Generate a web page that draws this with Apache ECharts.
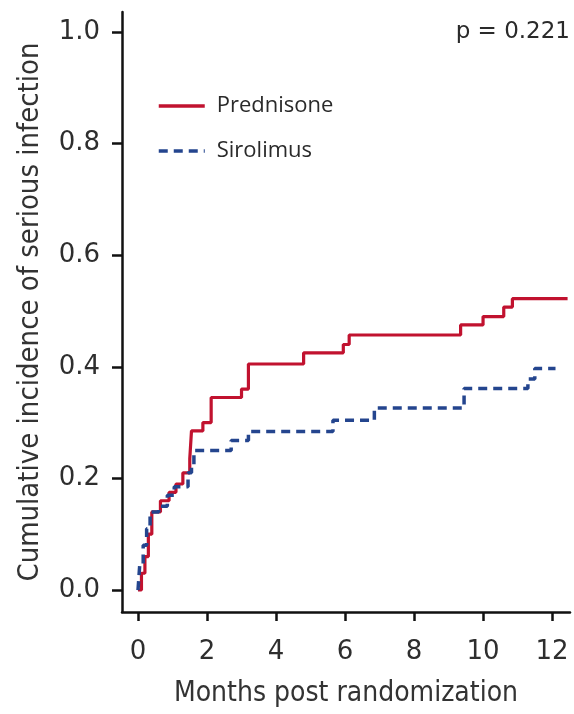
<!DOCTYPE html>
<html>
<head>
<meta charset="utf-8">
<script src="https://cdn.jsdelivr.net/npm/echarts@6/dist/echarts.min.js"></script>
<style>
  html, body { margin: 0; padding: 0; background: #fff; }
  #main { width: 574px; height: 714px; }
</style>
</head>
<body>
<div id="main"></div>
<script>
// Prednisone - step times (months) and cumulative incidence after each step
var predTime = [0, 0.1, 0.2, 0.3, 0.4, 0.65, 0.9, 1.1, 1.3, 1.5, 1.55, 1.88, 2.12, 3.0, 3.2, 4.8, 5.95, 6.12, 9.35, 10.0, 10.6, 10.85, 12.45];
var predValue = [0, 0.03, 0.06, 0.1, 0.14, 0.16, 0.175, 0.19, 0.21, 0.235, 0.285, 0.30, 0.345, 0.36, 0.405, 0.425, 0.44, 0.457, 0.475, 0.49, 0.507, 0.522, 0.522];
// Sirolimus
var siroTime = [0, 0.05, 0.15, 0.25, 0.35, 0.6, 0.85, 1.05, 1.45, 1.55, 1.62, 2.7, 3.2, 5.65, 6.85, 9.45, 11.3, 11.5, 12.1];
var siroValue = [0, 0.045, 0.08, 0.11, 0.14, 0.15, 0.17, 0.185, 0.21, 0.225, 0.25, 0.268, 0.284, 0.304, 0.326, 0.361, 0.378, 0.397, 0.397];
// ticks
var xTicks = [0, 2, 4, 6, 8, 10, 12];
var yTicks = [0, 0.2, 0.4, 0.6, 0.8, 1.0];

var labelFont = '"DejaVu Sans", sans-serif';
var legendFont = '"Open Sans", "Noto Sans", sans-serif';
var titleFont = '"Liberation Sans Narrow", "DejaVu Sans Condensed", sans-serif';

function toPairs(xs, ys) {
    var out = [];
    for (var i = 0; i < xs.length; i++) {
        out.push([xs[i], ys[i]]);
    }
    return out;
}

var chart = echarts.init(document.getElementById('main'));
var option = {
    animation: false,
    backgroundColor: '#fff',
    grid: { left: 122, right: 4, top: 12, bottom: 102 },
    legend: {
        orient: 'vertical',
        left: 157,
        top: 95,
        padding: 0,
        itemWidth: 46,
        itemHeight: 20,
        itemGap: 23,
        itemStyle: { opacity: 0 },
        lineStyle: { width: 3.5 },
        textStyle: { fontSize: 22, lineHeight: 20, color: '#2a2a2a', fontFamily: legendFont, padding: [0, 0, 0, 7] },
        data: ['Prednisone', 'Sirolimus']
    },
    xAxis: {
        type: 'value',
        min: -0.464,
        max: 12.52,
        name: 'Months post randomization',
        nameLocation: 'middle',
        nameGap: 68,
        nameTextStyle: { fontSize: 28, color: '#333', fontFamily: titleFont },
        axisLine: { onZero: false, lineStyle: { color: '#111', width: 2.5 } },
        axisTick: { customValues: xTicks, length: 9, lineStyle: { color: '#111', width: 2.5 } },
        axisLabel: { customValues: xTicks, fontSize: 26, color: '#2e2e2e', fontFamily: labelFont, margin: 27 },
        splitLine: { show: false }
    },
    yAxis: {
        type: 'value',
        min: -0.0394,
        max: 1.0358,
        name: 'Cumulative incidence of serious infection',
        nameLocation: 'middle',
        nameGap: 77,
        nameTextStyle: { fontSize: 29, color: '#333', fontFamily: titleFont },
        axisLine: { onZero: false, lineStyle: { color: '#111', width: 2.5 } },
        axisTick: { customValues: yTicks, length: 10, lineStyle: { color: '#111', width: 2.5 } },
        axisLabel: {
            customValues: yTicks, fontSize: 26, color: '#2e2e2e', fontFamily: labelFont, margin: 22,
            formatter: function (v) { return v.toFixed(1); }
        },
        splitLine: { show: false }
    },
    graphic: [{
        type: 'text',
        right: 4,
        top: 21,
        style: { text: 'p = 0.221', fontSize: 23, fill: '#2a2a2a', fontFamily: labelFont }
    }],
    series: [{
        name: 'Prednisone',
        type: 'line',
        step: 'end',
        symbol: 'none',
        color: '#C1122F',
        lineStyle: { color: '#C1122F', width: 3.2 },
        data: toPairs(predTime, predValue)
    }, {
        name: 'Sirolimus',
        type: 'line',
        step: 'end',
        symbol: 'none',
        color: '#24458E',
        lineStyle: { color: '#24458E', width: 3.5, type: [9, 6] },
        data: toPairs(siroTime, siroValue)
    }]
};
chart.setOption(option);
</script>
</body>
</html>
